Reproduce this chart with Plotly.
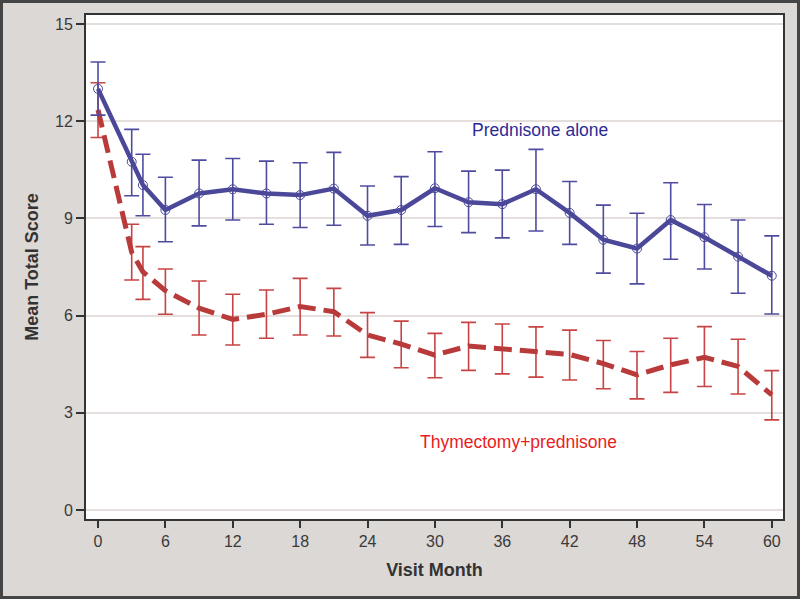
import plotly.graph_objects as go

months = [0, 3, 4, 6, 9, 12, 15, 18, 21, 24, 27, 30, 33, 36, 39, 42, 45, 48, 51, 54, 57, 60]

pred_mean = [13.0, 10.75, 10.03, 9.26, 9.77, 9.90, 9.77, 9.72, 9.92, 9.08, 9.26, 9.93, 9.50, 9.44, 9.90, 9.17, 8.34, 8.07, 8.95, 8.42, 7.82, 7.23]
pred_upper = [13.83, 11.75, 10.98, 10.27, 10.80, 10.85, 10.77, 10.72, 11.04, 10.0, 10.29, 11.06, 10.46, 10.49, 11.13, 10.14, 9.41, 9.16, 10.10, 9.43, 8.95, 8.46]
pred_lower = [12.19, 9.70, 9.08, 8.28, 8.77, 8.95, 8.82, 8.72, 8.79, 8.18, 8.2, 8.75, 8.56, 8.40, 8.61, 8.2, 7.31, 6.98, 7.74, 7.44, 6.69, 6.05]

thym_mean = [12.35, 7.95, 7.35, 6.77, 6.23, 5.88, 6.04, 6.28, 6.12, 5.40, 5.12, 4.78, 5.06, 4.98, 4.89, 4.80, 4.52, 4.17, 4.48, 4.71, 4.43, 3.55]
thym_upper = [13.19, 8.82, 8.13, 7.44, 7.07, 6.66, 6.79, 7.15, 6.84, 6.09, 5.83, 5.45, 5.79, 5.74, 5.65, 5.55, 5.23, 4.89, 5.30, 5.66, 5.27, 4.30]
thym_lower = [11.5, 7.10, 6.50, 6.04, 5.40, 5.09, 5.30, 5.40, 5.37, 4.71, 4.39, 4.08, 4.31, 4.20, 4.10, 4.01, 3.74, 3.43, 3.63, 3.81, 3.58, 2.78]

x_ticks = [0, 6, 12, 18, 24, 30, 36, 42, 48, 54, 60]
y_ticks = [0, 3, 6, 9, 12, 15]

FONT = "Liberation Sans, Arial, sans-serif"
BLUE = "#4B4899"
BLUE_ERR = "#4F4CA0"
RED = "#B93A3A"
RED_ERR = "#C84343"
TXT = "#3A3A3A"

fig = go.Figure()

fig.add_trace(go.Scatter(
    x=months, y=thym_mean, mode="lines",
    line=dict(color=RED, width=5, dash="18px,8px"),
    error_y=dict(type="data", symmetric=False,
                 array=[u - m for u, m in zip(thym_upper, thym_mean)],
                 arrayminus=[m - l for m, l in zip(thym_mean, thym_lower)],
                 color=RED_ERR, thickness=1.6, width=7.5),
    showlegend=False, hoverinfo="skip"))

fig.add_trace(go.Scatter(
    x=months, y=pred_mean, mode="lines+markers",
    line=dict(color=BLUE, width=4.5),
    marker=dict(symbol="circle-open", size=9, color=BLUE, line=dict(width=1)),
    error_y=dict(type="data", symmetric=False,
                 array=[u - m for u, m in zip(pred_upper, pred_mean)],
                 arrayminus=[m - l for m, l in zip(pred_mean, pred_lower)],
                 color=BLUE_ERR, thickness=1.6, width=7.5),
    showlegend=False, hoverinfo="skip"))

fig.add_annotation(x=39.4, y=11.73, text="Prednisone alone", showarrow=False,
                   font=dict(family=FONT, size=17.5, color="#2B2B97"))
fig.add_annotation(x=37.46, y=2.11, text="Thymectomy+prednisone", showarrow=False,
                   font=dict(family=FONT, size=17.5, color="#E8211E"))

# outer dark frame
W, H = 697, 504
L, R, T, B = 86, 17, 15, 80
fig.add_shape(type="rect", xref="paper", yref="paper",
              x0=-(L - 1.5) / W, x1=1 + (R - 1.5) / W,
              y0=-(B - 1.5) / H, y1=1 + (T - 1.5) / H,
              line=dict(color="#454545", width=3), layer="below")

fig.update_layout(
    width=800, height=599,
    margin=dict(l=L, r=R, t=T, b=B),
    paper_bgcolor="#DCD8D5",
    plot_bgcolor="white",
    font=dict(family=FONT, color=TXT),
    xaxis=dict(range=[-1.07, 61.0], tickvals=x_ticks, ticks="outside", ticklen=7,
               tickwidth=2, tickcolor="#333333", showgrid=False, zeroline=False,
               showline=True, linecolor="#333333", linewidth=2, mirror=True,
               tickfont=dict(size=16, color=TXT),
               title=dict(text="<b>Visit Month</b>", font=dict(size=18, color="#333333"), standoff=14)),
    yaxis=dict(range=[-0.28, 15.28], tickvals=y_ticks, ticks="outside", ticklen=8,
               tickwidth=2, tickcolor="#333333", showgrid=True, gridcolor="#E4DEDC",
               gridwidth=1.5, zeroline=False,
               showline=True, linecolor="#333333", linewidth=2, mirror=True,
               tickfont=dict(size=16, color=TXT),
               title=dict(text="<b>Mean Total Score</b>", font=dict(size=18, color="#333333"), standoff=12)),
)

fig.write_html("out.html", config={"displayModeBar": False},
               post_script="document.body.style.margin='0';document.body.style.padding='0';")
